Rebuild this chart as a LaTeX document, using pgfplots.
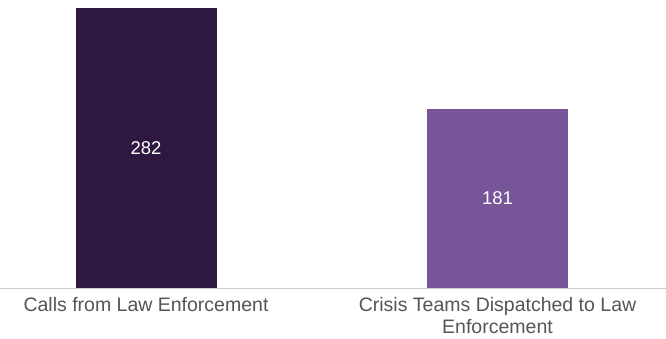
\documentclass[border=0pt]{standalone}
\usepackage{pgfplots}
\pgfplotsset{compat=1.18}
\usepackage{fontspec}
\setmainfont{Liberation Sans}
\definecolor{darkpurple}{HTML}{2E1740}
\definecolor{midpurple}{HTML}{775599}
\definecolor{labelgray}{HTML}{555555}
\definecolor{axisgray}{HTML}{CCCCCC}
\begin{document}
\begin{tikzpicture}[x=1pt,y=1pt]
\path[use as bounding box] (0,0) rectangle (666,338);
\begin{axis}[
  at={(0,50)}, anchor=south west,
  scale only axis, width=666pt, height=288pt,
  xmin=0, xmax=666, ymin=0, ymax=290,
  axis y line=none,
  axis x line*=bottom,
  x axis line style={axisgray, line width=1pt, -},
  xtick={146,497.5},
  xticklabels={Calls from Law Enforcement, {Crisis Teams Dispatched to Law\\Enforcement}},
  xticklabel style={align=center, text=labelgray, font=\fontsize{19.5}{22.5}\selectfont, anchor=north, yshift=-5pt},
  major tick length=0pt,
  ybar, bar width=141pt, bar shift=0pt,
  /pgf/number format/assume math mode=true,
  visualization depends on=rawy \as \rawy,
  nodes near coords,
  every node near coord/.append style={text=white, font=\fontsize{18.5}{22}\selectfont, anchor=center, shift={(axis direction cs:0,-\rawy/2)}},
  clip=false,
]
\addplot[fill=darkpurple, draw=none] coordinates {(146,282)};
\addplot[fill=midpurple, draw=none] coordinates {(497.5,181)};
\end{axis}
\end{tikzpicture}
\end{document}
